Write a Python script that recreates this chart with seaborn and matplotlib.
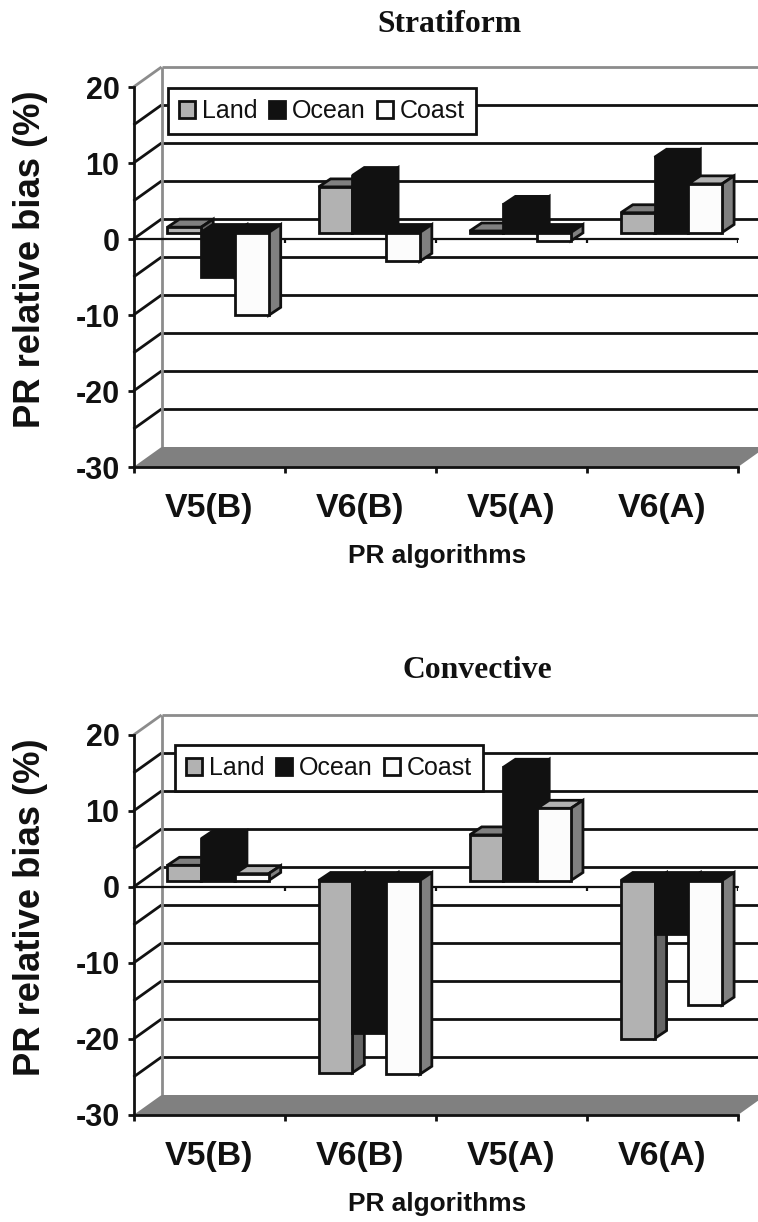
import pandas as pd
import seaborn as sns
import matplotlib
matplotlib.use('Agg')
import matplotlib.pyplot as plt

sns.set_style('white')
plt.rcParams['font.family'] = ['Liberation Sans', 'DejaVu Sans']
plt.rcParams['axes.unicode_minus'] = False

algorithms = ['V5(B)', 'V6(B)', 'V5(A)', 'V6(A)']
regions = ['Land', 'Ocean', 'Coast']

strat_land = [0.7, 6.0, 0.2, 2.6]
strat_ocean = [-5.9, 7.5, 3.7, 9.9]
strat_coast = [-10.9, -3.8, -1.1, 6.4]

conv_land = [2.0, -25.3, 6.0, -20.8]
conv_ocean = [5.5, -20.0, 14.9, -7.0]
conv_coast = [0.9, -25.5, 9.5, -16.4]

front_colors = {'Land': '#b2b2b2', 'Ocean': '#111111', 'Coast': '#fcfcfc'}
top_colors = {'Land': '#808080', 'Ocean': '#111111', 'Coast': '#b2b2b2'}
side_colors = {'Land': '#666666', 'Ocean': '#111111', 'Coast': '#808080'}

# depth of the fake 3d box, in data units (1 category = 151px, 1% = 7.6px)
DX = 28 / 151
DY = 20 / 7.6
# bars sit a little way into the box
FX = 9 / 151
FY = 6.5 / 7.6
SX = 12 / 151
SY = 8 / 7.6

W, H = 758, 1222


def draw_box(ax):
    left, right = -0.5, 3.5
    kw = dict(clip_on=False, solid_capstyle='butt', zorder=1)
    for v in range(-25, 20, 5):
        ax.plot([left + DX, right + DX], [v + DY, v + DY], color='#111111', lw=2, **kw)
        ax.plot([left, left + DX], [v, v + DY], color='#111111', lw=2, **kw)
    ax.plot([left + DX, right + DX], [20 + DY, 20 + DY], color='#8c8c8c', lw=2, **kw)
    ax.plot([left, left + DX], [20, 20 + DY], color='#8c8c8c', lw=2, **kw)
    ax.plot([left + DX, left + DX], [-30 + DY, 20 + DY], color='#8c8c8c', lw=2, **kw)
    ax.fill([left, right, right + DX, left + DX], [-30, -30, -30 + DY, -30 + DY],
            color='#808080', lw=0, clip_on=False, zorder=1)
    ax.plot([left, right], [0, 0], color='#111111', lw=1.6, clip_on=False, zorder=2)
    ax.vlines([0.5, 1.5, 2.5, 3.5], -0.5, 0, color='#111111', lw=1.6, zorder=2)


def make_3d(ax):
    for j, (region, bars) in enumerate(zip(regions, ax.containers)):
        for i, bar in enumerate(bars):
            z = 3 + (i * 3 + j) * 0.1
            h = bar.get_height()
            x = bar.get_x() + FX
            w = bar.get_width()
            bar.set_x(x)
            bar.set_y(FY)
            bar.set_zorder(z + 0.01)
            up = max(h, 0) + FY
            down = min(h, 0) + FY
            top = top_colors[region] if h > 0 else '#111111'
            ax.fill([x, x + w, x + w + SX, x + SX], [up, up, up + SY, up + SY],
                    facecolor=top, edgecolor='#111111', lw=2, clip_on=False, zorder=z)
            ax.fill([x + w, x + w, x + w + SX, x + w + SX], [down, up, up + SY, down + SY],
                    facecolor=side_colors[region], edgecolor='#111111', lw=2,
                    clip_on=False, zorder=z)


def panel(rect, land, ocean, coast, title, title_xy, legend_xy):
    left, top, right, bottom = rect
    ax = fig.add_axes([left / W, 1 - bottom / H, (right - left) / W, (bottom - top) / H])
    df = pd.DataFrame({
        'algorithm': algorithms * 3,
        'region': [r for r in regions for _ in algorithms],
        'bias': land + ocean + coast,
    })
    sns.barplot(data=df, x='algorithm', y='bias', hue='region', order=algorithms,
                hue_order=regions, palette=front_colors, width=0.67, gap=0, saturation=1,
                edgecolor='#111111', linewidth=2, errorbar=None, ax=ax)
    make_3d(ax)
    draw_box(ax)

    ax.set_xlim(-0.5, 3.5)
    ax.set_ylim(-30, 20)
    ax.patch.set_alpha(0)
    ax.spines['top'].set_visible(False)
    ax.spines['right'].set_visible(False)
    for s in ['left', 'bottom']:
        ax.spines[s].set_linewidth(2)
        ax.spines[s].set_color('#111111')
        ax.spines[s].set_zorder(2)

    ax.set_yticks([-30, -20, -10, 0, 10, 20])
    ax.tick_params(axis='y', left=True, length=4, width=2, color='#111111', pad=6,
                   labelsize=22)
    ax.set_xticks(range(4))
    ax.set_xticks([-0.5, 0.5, 1.5, 2.5, 3.5], minor=True)
    ax.tick_params(axis='x', which='major', bottom=False, pad=15, labelsize=24.4)
    ax.tick_params(axis='x', which='minor', bottom=True, length=4, width=2, color='#111111')
    for t in ax.get_xticklabels() + ax.get_yticklabels():
        t.set_fontweight('bold')
        t.set_color('#111111')

    ax.set_ylabel('PR relative bias (%)', fontsize=26.2, fontweight='bold', color='#111111', va='center')
    ax.yaxis.set_label_coords((31 - left) / (right - left), 0.547)
    ax.set_xlabel('PR algorithms', fontsize=18.9, fontweight='bold', color='#111111', va='center')
    ax.xaxis.set_label_coords((437 - left) / (right - left), -0.235)
    ax.set_title(title, x=(title_xy[0] - left) / (right - left), y=(bottom - title_xy[1]) / (bottom - top),
                 va='center', pad=0, fontsize=22.8, fontweight='bold', family='Liberation Serif',
                 color='#111111')

    leg = ax.legend(ncol=3, loc='upper left', frameon=True, fancybox=False, framealpha=1,
                    edgecolor='#111111', fontsize=18, title=None, borderaxespad=0,
                    bbox_to_anchor=((legend_xy[0] - left) / (right - left),
                                    (bottom - legend_xy[1]) / (bottom - top)),
                    handlelength=0.65, handleheight=0.65, handletextpad=0.28,
                    columnspacing=0.44, borderpad=0.44)
    leg.get_frame().set_linewidth(2)
    leg.set_zorder(10)
    for t in leg.get_texts():
        t.set_color('#111111')
    for p in leg.get_patches():
        p.set_linewidth(2)
    return ax


fig = plt.figure(figsize=(W / 100, H / 100), dpi=100)
panel((133.5, 87, 738, 467), strat_land, strat_ocean, strat_coast, 'Stratiform', (449, 24), (168, 88))
panel((133.5, 735, 738, 1115), conv_land, conv_ocean, conv_coast, 'Convective', (477, 670), (175, 745))
fig.savefig('out.png', dpi=100)
